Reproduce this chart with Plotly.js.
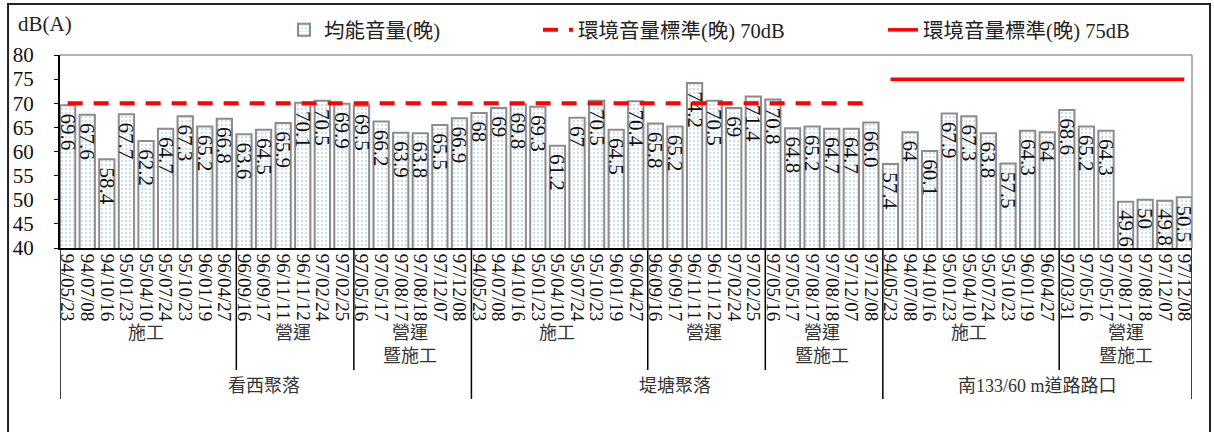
<!DOCTYPE html>
<html>
<head>
<meta charset="utf-8">
<script src="https://cdn.plot.ly/plotly-3.0.1.min.js"></script>
<style>
  html, body { margin: 0; padding: 0; background: #fff; }
  #chart { width: 1214px; height: 432px; }
</style>
</head>
<body>
<div id="chart"></div>
<script>
// ---------- data ----------
const siteNames = ['看西聚落', '堤塘聚落', '南133/60 m道路路口'];
const phaseNames = ['施工', '營運', '營運<br>暨施工'];

const datesConstruction = ['94/05/23', '94/07/08', '94/10/16', '95/01/23', '95/04/10', '95/07/24', '95/10/23', '96/01/19', '96/04/27'];
const datesOperation = ['96/09/16', '96/09/17', '96/11/11', '96/11/12', '97/02/24', '97/02/25'];
const datesOpConstr = ['97/05/16', '97/05/17', '97/08/17', '97/08/18', '97/12/07', '97/12/08'];
const datesOpConstrRoad = ['97/03/31', '97/05/16', '97/05/17', '97/08/17', '97/08/18', '97/12/07', '97/12/08'];

const kanxiLabels = ['69.6', '67.6', '58.4', '67.7', '62.2', '64.7', '67.3', '65.2', '66.8',
                     '63.6', '64.5', '65.9', '70.1', '70.5', '69.9',
                     '69.5', '66.2', '63.9', '63.8', '65.5', '66.9'];
const ditangLabels = ['68', '69', '69.8', '69.3', '61.2', '67', '70.5', '64.5', '70.4',
                      '65.8', '65.2', '74.2', '70.5', '69', '71.4',
                      '70.8', '64.8', '65.2', '64.7', '64.7', '66.0'];
const roadLabels = ['57.4', '64', '60.1', '67.9', '67.3', '63.8', '57.5', '64.3', '64',
                    '68.6', '65.2', '64.3', '49.6', '50', '49.8', '50.5'];

const standard70 = [70, 70, null];   // 環境音量標準(晚) 70dB per site
const standard75 = [null, null, 75]; // 環境音量標準(晚) 75dB per site

const legendNames = ['均能音量(晚)', '環境音量標準(晚) 70dB', '環境音量標準(晚) 75dB'];

// ---------- build ----------
const sites = [
  { name: siteNames[0], labels: kanxiLabels,
    phases: [{ name: phaseNames[0], dates: datesConstruction },
             { name: phaseNames[1], dates: datesOperation },
             { name: phaseNames[2], dates: datesOpConstr }] },
  { name: siteNames[1], labels: ditangLabels,
    phases: [{ name: phaseNames[0], dates: datesConstruction },
             { name: phaseNames[1], dates: datesOperation },
             { name: phaseNames[2], dates: datesOpConstr }] },
  { name: siteNames[2], labels: roadLabels,
    phases: [{ name: phaseNames[0], dates: datesConstruction },
             { name: phaseNames[2], dates: datesOpConstrRoad }] }
];

const xs = [], ys = [], txt = [], tickText = [], y70 = [], y75 = [];
const siteBounds = [], phaseBounds = [];
let idx = 0;
sites.forEach((s, si) => {
  const sStart = idx;
  let k = 0;
  s.phases.forEach((p) => {
    const pStart = idx;
    p.dates.forEach((d) => {
      xs.push(idx); tickText.push(d);
      txt.push('\u00a0' + s.labels[k]); ys.push(parseFloat(s.labels[k]));
      y70.push(standard70[si]); y75.push(standard75[si]);
      idx++; k++;
    });
    phaseBounds.push({ start: pStart, end: idx - 1, name: p.name });
  });
  siteBounds.push({ start: sStart, end: idx - 1, name: s.name });
});
const N = idx;
const BW = 0.78, H = BW / 2;

const FONT_SERIF = '"Liberation Serif", "Times New Roman", "Noto Sans CJK TC", serif';
const FONT_MIX = '"Liberation Serif", "Noto Sans CJK TC", serif';

const traces = [
  {
    type: 'bar', x: xs, y: ys, width: BW, name: legendNames[0],
    text: txt, textposition: 'inside', insidetextanchor: 'end', textangle: 90,
    constraintext: 'none', cliponaxis: false,
    textfont: { family: FONT_SERIF, size: 21, color: '#111' },
    marker: { color: '#ffffff', line: { color: '#8c8c8c', width: 2 },
              pattern: { shape: '.', fgcolor: '#b6d3ee', bgcolor: '#ffffff', size: 4, solidity: 0.2 } },
    hoverinfo: 'x+y', legend: 'legend'
  },
  {
    type: 'scatter', mode: 'lines', x: xs, y: y70, name: legendNames[1],
    line: { color: '#ff0000', width: 4, dash: '15px,11px' }, legend: 'legend2'
  },
  {
    type: 'scatter', mode: 'lines', x: xs, y: y75, name: legendNames[2],
    line: { color: '#ff0000', width: 3.5 }, legend: 'legend3'
  }
];

// shapes: group separators below axis
const shapes = [];
const lineBlack = { color: '#000', width: 1.5 };
const leftEdge = (i) => i - H;
siteBounds.forEach((b) => {
  shapes.push({ type: 'line', xref: 'x', yref: 'paper', x0: leftEdge(b.start), x1: leftEdge(b.start), y0: 0, y1: -0.782, line: lineBlack });
});
shapes.push({ type: 'line', xref: 'x', yref: 'paper', x0: (N - 1) + H, x1: (N - 1) + H, y0: 0, y1: -0.782, line: lineBlack });
const siteStarts = new Set(siteBounds.map(b => b.start));
phaseBounds.forEach((b) => {
  if (!siteStarts.has(b.start)) {
    shapes.push({ type: 'line', xref: 'x', yref: 'paper', x0: leftEdge(b.start), x1: leftEdge(b.start), y0: 0, y1: -0.632, line: lineBlack });
  }
});
// plot frame top & right (gray)
shapes.push({ type: 'line', xref: 'paper', yref: 'paper', x0: 0, x1: 1, y0: 1, y1: 1, line: { color: '#9a9a9a', width: 1.5 } });
shapes.push({ type: 'line', xref: 'paper', yref: 'paper', x0: 1, x1: 1, y0: 0, y1: 1, line: { color: '#9a9a9a', width: 1.5 } });
// outer chart frame
shapes.push({ type: 'rect', xref: 'paper', yref: 'paper', x0: -0.0459, x1: 1.0159, y0: -1.1, y1: 1.264, line: { color: '#222', width: 2 }, fillcolor: 'rgba(0,0,0,0)' });

const annotations = [];
phaseBounds.forEach((b) => {
  annotations.push({ xref: 'x', yref: 'paper', x: (b.start + b.end) / 2, y: -0.38, yanchor: 'top',
    text: b.name, showarrow: false, font: { family: FONT_MIX, size: 18, color: '#333' } });
});
siteBounds.forEach((b) => {
  annotations.push({ xref: 'x', yref: 'paper', x: (b.start + b.end) / 2, y: -0.715, yanchor: 'middle',
    text: b.name, showarrow: false, font: { family: FONT_MIX, size: 18, color: '#333' } });
});
annotations.push({ xref: 'paper', yref: 'paper', x: -0.039, y: 1.16, xanchor: 'left', yanchor: 'middle',
  text: 'dB(A)', showarrow: false, font: { family: FONT_SERIF, size: 21, color: '#222' } });

const legendBase = { orientation: 'h', xref: 'container', yref: 'container', yanchor: 'middle', xanchor: 'left',
  font: { family: FONT_MIX, size: 20.5, color: '#222' }, bgcolor: 'rgba(0,0,0,0)', itemwidth: 30 };

const layout = {
  width: 1214, height: 432,
  margin: { l: 60, r: 22, t: 55, b: 184 },
  paper_bgcolor: '#fff', plot_bgcolor: '#fff',
  showlegend: true,
  legend: Object.assign({}, legendBase, { x: 284 / 1214, y: 1 - 30 / 432 }),
  legend2: Object.assign({}, legendBase, { x: 538 / 1214, y: 1 - 30 / 432 }),
  legend3: Object.assign({}, legendBase, { x: 883 / 1214, y: 1 - 30 / 432 }),
  bargap: 0,
  xaxis: {
    range: [-H, (N - 1) + H], tickvals: xs, ticktext: tickText, tickangle: 90,
    tickfont: { family: FONT_SERIF, size: 19, color: '#111' },
    showline: true, linecolor: '#000', linewidth: 2, ticks: '', showgrid: false, zeroline: false, fixedrange: true
  },
  yaxis: {
    range: [40, 80], dtick: 5, tick0: 40, showline: true, linecolor: '#000', linewidth: 2,
    ticks: 'outside', ticklen: 4, tickcolor: '#000', ticklabelstandoff: 16,
    tickfont: { family: FONT_SERIF, size: 21, color: '#111' },
    showgrid: false, zeroline: false, fixedrange: true
  },
  shapes: shapes,
  annotations: annotations
};

Plotly.newPlot('chart', traces, layout, { displayModeBar: false, staticPlot: true });
</script>
</body>
</html>
